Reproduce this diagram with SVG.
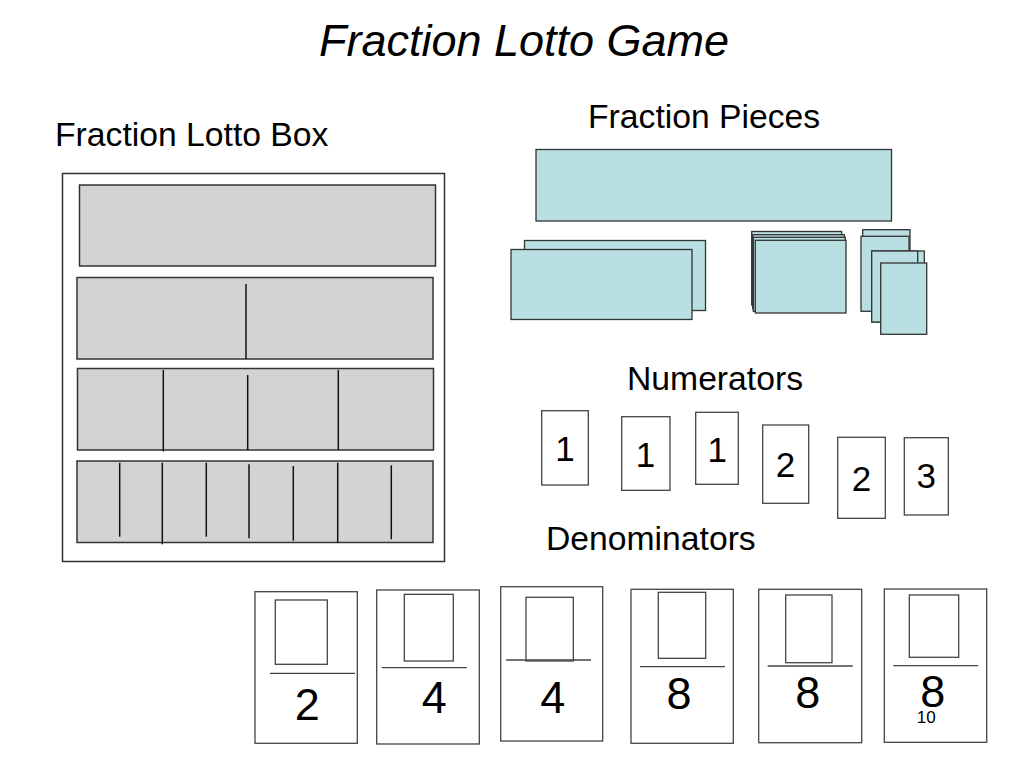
<svg xmlns="http://www.w3.org/2000/svg" width="1024" height="768" viewBox="0 0 1024 768">
<style>
text{font-family:"Liberation Sans",Arial,sans-serif;fill:#000}
.h{font-size:33.7px}
.row{fill:#d3d3d3;stroke:#333;stroke-width:1.5}
.div{stroke:#111;stroke-width:1.5}
.pc{fill:#b9dfe2;stroke:#333;stroke-width:1.3}
.card{fill:#fff;stroke:#444;stroke-width:1.3}
.num{font-size:35px;text-anchor:middle}
.den{font-size:45px;text-anchor:middle}
.bar{stroke:#444;stroke-width:1.3}
</style>
<rect width="1024" height="768" fill="#fff"/>
<text x="524" y="56" font-size="45" font-style="italic" text-anchor="middle">Fraction Lotto Game</text>
<text class="h" x="55" y="146">Fraction Lotto Box</text>
<text class="h" x="588" y="128">Fraction Pieces</text>
<text class="h" x="627" y="390">Numerators</text>
<text class="h" x="546" y="550">Denominators</text>

<g id="lotto-box">
<rect x="62.5" y="173.5" width="382" height="388" fill="#fff" stroke="#333" stroke-width="1.5"/>
<rect class="row" x="79.5" y="185" width="356" height="81"/>
<rect class="row" x="77" y="277.5" width="356" height="81.5"/>
<line class="div" x1="246" y1="284" x2="246" y2="359"/>
<rect class="row" x="77.5" y="368.5" width="356" height="81.5"/>
<line class="div" x1="163.3" y1="370" x2="163.3" y2="451.5"/>
<line class="div" x1="247.7" y1="375" x2="247.7" y2="450"/>
<line class="div" x1="338.3" y1="370" x2="338.3" y2="450"/>
<rect class="row" x="77" y="461" width="356" height="81.5"/>
<line class="div" x1="119.7" y1="462.7" x2="119.7" y2="536.7"/>
<line class="div" x1="162.3" y1="462.7" x2="162.3" y2="544.3"/>
<line class="div" x1="206.3" y1="462.7" x2="206.3" y2="536.7"/>
<line class="div" x1="249" y1="464.3" x2="249" y2="538.3"/>
<line class="div" x1="293.3" y1="466" x2="293.3" y2="540.7"/>
<line class="div" x1="337.7" y1="462.7" x2="337.7" y2="542.7"/>
<line class="div" x1="391.3" y1="465.3" x2="391.3" y2="539.3"/>
</g>

<g id="fraction-pieces">
<rect class="pc" x="536" y="149.5" width="355.5" height="71.5"/>
<rect class="pc" x="524.5" y="240.5" width="181" height="70"/>
<rect class="pc" x="511" y="249.5" width="181" height="70"/>
<rect class="pc" x="751.7" y="231.5" width="90" height="73.5"/>
<rect class="pc" x="752.7" y="234.7" width="91.6" height="74"/>
<rect class="pc" x="753.3" y="237.3" width="92" height="74"/>
<rect class="pc" x="755.3" y="240.3" width="90.7" height="72.7"/>
<rect class="pc" x="862.7" y="229.7" width="47.3" height="76"/>
<rect class="pc" x="861" y="236.3" width="48" height="75"/>
<rect class="pc" x="871.7" y="251" width="52.6" height="71"/>
<rect class="pc" x="871.7" y="251" width="46" height="71"/>
<rect class="pc" x="880.7" y="263" width="46" height="71.3"/>
</g>

<g id="numerators">
<rect class="card" x="541.7" y="410.7" width="46.6" height="74.3"/>
<text class="num" x="565" y="460.7">1</text>
<rect class="card" x="621.7" y="416.7" width="48.3" height="73.6"/>
<text class="num" x="645.5" y="466.7">1</text>
<rect class="card" x="695.7" y="412.3" width="42.6" height="72"/>
<text class="num" x="717.3" y="461.7">1</text>
<rect class="card" x="762.7" y="425" width="46" height="78.3"/>
<text class="num" x="785.5" y="476.7">2</text>
<rect class="card" x="837.7" y="437.3" width="47.6" height="81"/>
<text class="num" x="861.5" y="490.7">2</text>
<rect class="card" x="904.3" y="437.7" width="44" height="77.3"/>
<text class="num" x="926.3" y="488.3">3</text>
</g>

<g id="denominators">
<g id="den-2">
<rect class="card" x="255" y="591.7" width="102.3" height="151.6"/>
<rect class="card" x="275.3" y="600" width="52" height="64.3"/>
<line class="bar" x1="270" y1="673.3" x2="355" y2="673.3"/>
<text class="den" x="307.3" y="720">2</text>
</g>
<g id="den-4a">
<rect class="card" x="376.7" y="590" width="102.6" height="154"/>
<rect class="card" x="404.3" y="594.3" width="49" height="66.7"/>
<line class="bar" x1="381.7" y1="667.7" x2="466.7" y2="667.7"/>
<text class="den" x="434.3" y="713.3">4</text>
</g>
<g id="den-4b">
<rect class="card" x="500.7" y="586.7" width="102" height="154.3"/>
<rect class="card" x="526" y="597.3" width="47.3" height="63.7"/>
<line class="bar" x1="506" y1="660" x2="591" y2="660"/>
<text class="den" x="552.7" y="712.7">4</text>
</g>
<g id="den-8a">
<rect class="card" x="631" y="589.3" width="102.3" height="154"/>
<rect class="card" x="658.3" y="592.3" width="47.4" height="66"/>
<line class="bar" x1="640" y1="666.7" x2="725" y2="666.7"/>
<text class="den" x="679" y="709.3">8</text>
</g>
<g id="den-8b">
<rect class="card" x="758.7" y="589.3" width="103" height="153.4"/>
<rect class="card" x="785.7" y="595" width="46.3" height="67.7"/>
<line class="bar" x1="767.7" y1="666" x2="852.7" y2="666"/>
<text class="den" x="807.7" y="708.3">8</text>
</g>
<g id="den-8c">
<rect class="card" x="884.3" y="589" width="102.4" height="153.3"/>
<rect class="card" x="909.3" y="595" width="49.4" height="62.3"/>
<line class="bar" x1="893.3" y1="665.7" x2="978.3" y2="665.7"/>
<text class="den" x="932.7" y="706.7">8</text>
</g>
</g>
<text x="926.3" y="723.3" font-size="17" text-anchor="middle">10</text>
</svg>
